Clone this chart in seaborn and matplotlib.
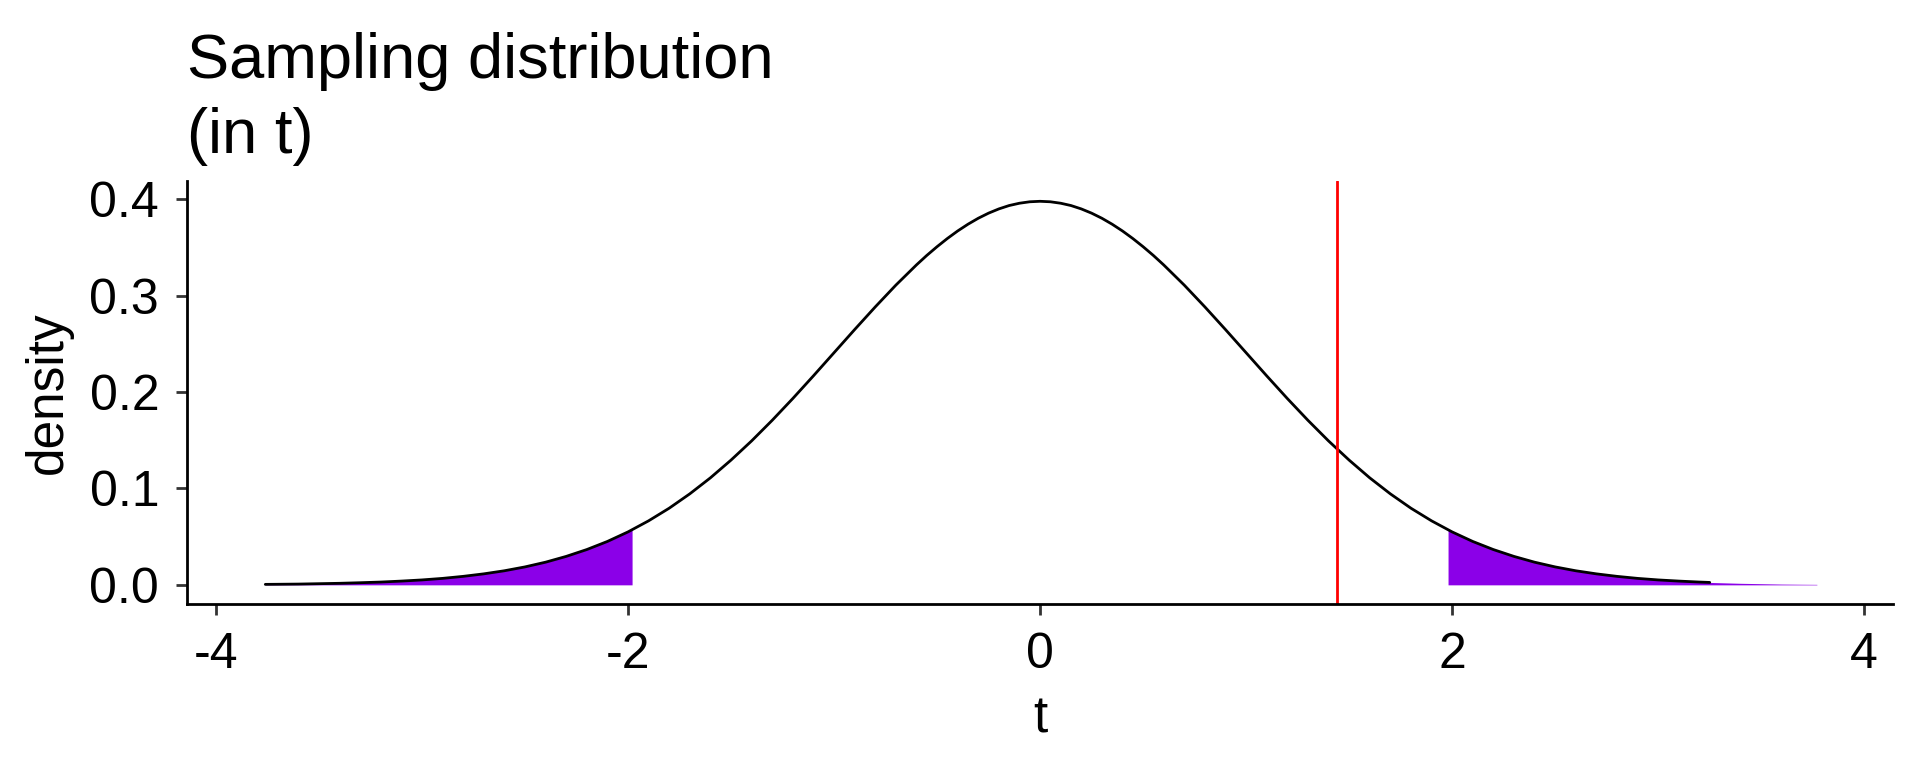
import matplotlib
matplotlib.use("Agg")
import matplotlib.pyplot as plt
import seaborn as sns
import numpy as np
import pandas as pd

# ---- data ----
t_pos = [0.0, 0.05, 0.1, 0.15, 0.2, 0.25, 0.3, 0.35, 0.4, 0.45, 0.5, 0.55,
         0.6, 0.7, 0.8, 0.9, 1.0, 1.1, 1.2, 1.3,
         1.4, 1.5, 1.6, 1.7, 1.8, 1.9, 2.0, 2.1, 2.2, 2.3, 2.4, 2.5, 2.6, 2.7,
         2.8, 2.9, 3.0, 3.1, 3.2, 3.25, 3.3, 3.4, 3.5, 3.6, 3.7, 3.77]
dens_pos = [0.3979, 0.3974, 0.3959, 0.3935, 0.3900, 0.3856, 0.3803, 0.3741,
            0.3671, 0.3593, 0.3508, 0.3417, 0.3319, 0.3109,
            0.2883, 0.2648, 0.2408, 0.2168, 0.1933, 0.1707, 0.1493, 0.1294,
            0.1110, 0.0944, 0.0795, 0.0664, 0.0549, 0.0450, 0.0366, 0.0295,
            0.0235, 0.0186, 0.0146, 0.0114, 0.0088, 0.0067, 0.0051, 0.0039,
            0.0029, 0.0025, 0.0022, 0.0016, 0.0012, 0.0008, 0.0006, 0.0005]
t_neg = [-3.76, -3.7, -3.6, -3.5, -3.4, -3.3, -3.2, -3.1, -3.0, -2.9, -2.8,
         -2.7, -2.6, -2.5, -2.4, -2.3, -2.2, -2.1, -2.0, -1.9, -1.8, -1.7,
         -1.6, -1.5, -1.4, -1.3, -1.2, -1.1, -1.0, -0.9, -0.8, -0.7, -0.6,
         -0.55, -0.5, -0.45, -0.4, -0.35, -0.3, -0.25, -0.2, -0.15, -0.1,
         -0.05]
dens_neg = [0.0005, 0.0006, 0.0008, 0.0012, 0.0016, 0.0022, 0.0029, 0.0039,
            0.0051, 0.0067, 0.0088, 0.0114, 0.0146, 0.0186, 0.0235, 0.0295,
            0.0366, 0.0450, 0.0549, 0.0664, 0.0795, 0.0944, 0.1110, 0.1294,
            0.1493, 0.1707, 0.1933, 0.2168, 0.2408, 0.2648, 0.2883, 0.3109,
            0.3319, 0.3417, 0.3508, 0.3593, 0.3671, 0.3741, 0.3803, 0.3856,
            0.3900, 0.3935, 0.3959, 0.3974]
crit_t = 1.98
crit_density = 0.0571
observed_t = 1.44
line_end_t = 3.25
x_ticks = [-4, -2, 0, 2, 4]
x_tick_labels = ["-4", "-2", "0", "2", "4"]
y_ticks = [0.0, 0.1, 0.2, 0.3, 0.4]
y_tick_labels = ["0.0", "0.1", "0.2", "0.3", "0.4"]

df = pd.DataFrame({"t": t_neg + t_pos, "density": dens_neg + dens_pos})
curve = df[df["t"] <= line_end_t]

left_tail = pd.concat([df[df["t"] <= -crit_t],
                       pd.DataFrame({"t": [-crit_t], "density": [crit_density]})])
right_tail = pd.concat([pd.DataFrame({"t": [crit_t], "density": [crit_density]}),
                        df[df["t"] >= crit_t]])

# ---- style ----
sns.set_style("ticks")
plt.rcParams["font.family"] = ["Liberation Sans", "DejaVu Sans"]
plt.rcParams["text.color"] = "black"
plt.rcParams["axes.labelcolor"] = "black"

fig = plt.figure(figsize=(19.2, 7.68), dpi=100)
ax = fig.add_axes([0.0974, 0.2135, 0.8886, 0.5505])

fill_col = "#8B00E8"
ax.fill_between(left_tail["t"], 0, left_tail["density"], color=fill_col, lw=0)
ax.fill_between(right_tail["t"], 0, right_tail["density"], color=fill_col, lw=0)
sns.lineplot(data=curve, x="t", y="density", color="black", lw=2.0, ax=ax,
             sort=True)
ax.axvline(observed_t, color="red", lw=2.0)

ax.set_xlim(-4.14, 4.14)
ax.set_ylim(-0.0199, 0.4187)
ax.set_xticks(x_ticks)
ax.set_xticklabels(x_tick_labels)
ax.set_yticks(y_ticks)
ax.set_yticklabels(y_tick_labels)
ax.tick_params(axis="both", labelsize=36, length=8, width=2, color="#333333",
               labelcolor="black")
ax.tick_params(axis="y", pad=12)
ax.tick_params(axis="x", pad=12)
for s in ["left", "bottom"]:
    ax.spines[s].set_linewidth(2)
    ax.spines[s].set_color("black")
sns.despine(ax=ax)

ax.set_xlabel("t", fontsize=37, labelpad=12)
ax.set_ylabel("density", fontsize=37, labelpad=12)
ax.set_title("Sampling distribution\n(in t)", loc="left", fontsize=45.5,
             pad=20, linespacing=1.35, color="black")

fig.savefig("out.png", dpi=100)
